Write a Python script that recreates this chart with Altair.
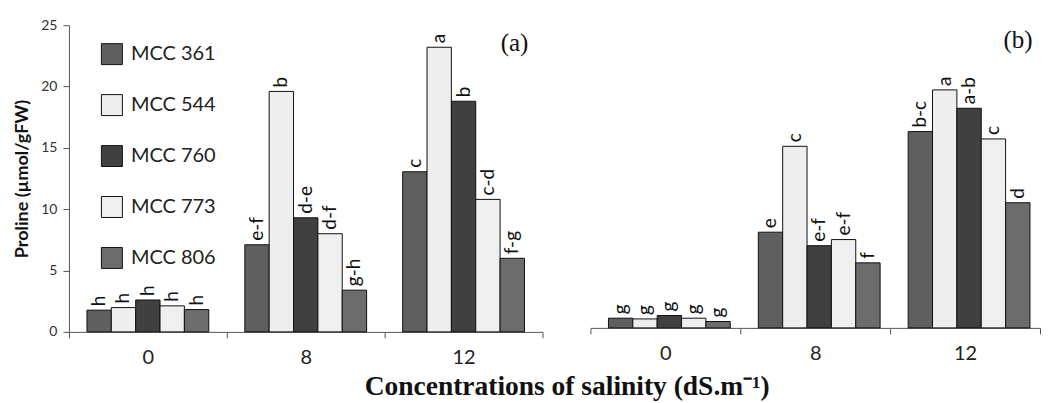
import altair as alt
import pandas as pd

salinity = ["0", "8", "12"]
strains = ["MCC 361", "MCC 544", "MCC 760", "MCC 773", "MCC 806"]
fills = ["#5f5f5f", "#eeeeee", "#404040", "#efefef", "#6c6c6c"]

# panel (a)
a_mcc361 = [1.77, 7.1, 13.05]
a_mcc544 = [1.98, 19.6, 23.2]
a_mcc760 = [2.6, 9.3, 18.8]
a_mcc773 = [2.12, 8.0, 10.8]
a_mcc806 = [1.82, 3.4, 6.0]
a_let361 = ["h", "e-f", "c"]
a_let544 = ["h", "b", "a"]
a_let760 = ["h", "d-e", "b"]
a_let773 = ["h", "d-f", "c-d"]
a_let806 = ["h", "g-h", "f-g"]

# panel (b)
b_mcc361 = [0.79, 7.8, 16.0]
b_mcc544 = [0.73, 14.8, 19.4]
b_mcc760 = [1.01, 6.7, 17.9]
b_mcc773 = [0.79, 7.2, 15.4]
b_mcc806 = [0.52, 5.3, 10.2]
b_let361 = ["g", "e", "b-c"]
b_let544 = ["g", "c", "a"]
b_let760 = ["g", "e-f", "a-b"]
b_let773 = ["g", "e-f", "c"]
b_let806 = ["g", "f", "d"]


def frame(vals, lets):
    rows = []
    for s, v, l in zip(strains, vals, lets):
        for g, val, let in zip(salinity, v, l):
            rows.append({"salinity": g, "strain": s, "value": val, "letter": let})
    return pd.DataFrame(rows)


df_a = frame([a_mcc361, a_mcc544, a_mcc760, a_mcc773, a_mcc806],
             [a_let361, a_let544, a_let760, a_let773, a_let806])
df_b = frame([b_mcc361, b_mcc544, b_mcc760, b_mcc773, b_mcc806],
             [b_let361, b_let544, b_let760, b_let773, b_let806])

SANS = "Lato"
SERIF = "Liberation Serif"

xaxis = alt.Axis(title=None, labelAngle=0, labelFont=SANS, labelFontSize=20,
                 labelColor="#222222", tickBand="extent", tickSize=6,
                 tickColor="#555555", domainColor="#555555", labelPadding=10)


def panel(df, width, height, ymax, show_y, legend, tag, tag_x, tag_y):
    xenc = alt.X("salinity:N", sort=salinity, axis=xaxis,
                 scale=alt.Scale(paddingInner=0, paddingOuter=0))
    xoff = alt.XOffset("strain:N", sort=strains,
                       scale=alt.Scale(paddingInner=0, paddingOuter=0.74))
    if show_y:
        yaxis = alt.Axis(title="Proline (µmol/gFW)", values=[0, 5, 10, 15, 20, 25],
                         grid=False, tickSize=6, labelFont=SANS, labelFontSize=14,
                         labelColor="#333333", titleFont=SANS, titleFontSize=18,
                         titleFontWeight="bold", titleColor="#111111", titlePadding=9,
                         domainColor="#555555", tickColor="#555555", labelPadding=6)
    else:
        yaxis = None
    yenc = alt.Y("value:Q", axis=yaxis, scale=alt.Scale(domain=[0, ymax], nice=False))
    color = alt.Color("strain:N", sort=strains,
                      scale=alt.Scale(domain=strains, range=fills),
                      legend=legend)
    bars = alt.Chart(df).mark_bar(stroke="#111111", strokeWidth=1).encode(
        x=xenc, xOffset=xoff, y=yenc, color=color)
    letters = alt.Chart(df).mark_text(angle=270, align="left", baseline="middle",
                                      dx=4, font=SANS, fontSize=19,
                                      color="#111111").encode(
        x=xenc, xOffset=xoff, y=yenc, text="letter:N")
    tagm = alt.Chart(pd.DataFrame({"t": [tag]})).mark_text(
        font=SERIF, fontSize=25, color="#111111", align="center", baseline="middle"
    ).encode(x=alt.value(tag_x), y=alt.value(tag_y), text="t:N")
    return alt.layer(bars, letters, tagm).properties(
        width=width, height=height,
        view=alt.ViewBackground(stroke="transparent", strokeWidth=0))


legend_a = alt.Legend(title=None, orient="none", legendX=32, legendY=18,
                      symbolType="square", symbolSize=440, symbolStrokeColor="#111111",
                      symbolStrokeWidth=1, labelFont=SANS, labelFontSize=20,
                      labelColor="#222222", labelOffset=8, rowPadding=25, padding=0)

left = panel(df_a, 474, 307, 25, True, legend_a, "(a)", 446, 18)
right = panel(df_b, 450, 303, 303 / 307 * 25, False, None, "(b)", 428, 15)

chart = alt.hconcat(left, right, spacing=46).resolve_legend(
    color="independent"
).properties(
    title=alt.TitleParams("Concentrations of salinity (dS.m⁻¹)", orient="bottom",
                          anchor="middle", font=SERIF, fontSize=27.5, fontWeight="bold",
                          color="#111111", offset=5, dx=40),
    padding={"left": 5, "top": 10, "right": 0, "bottom": 0},
).configure_view(stroke="transparent", strokeWidth=0).configure(background="white")

chart.save("out.html", embed_options={"renderer": "svg", "actions": False})
